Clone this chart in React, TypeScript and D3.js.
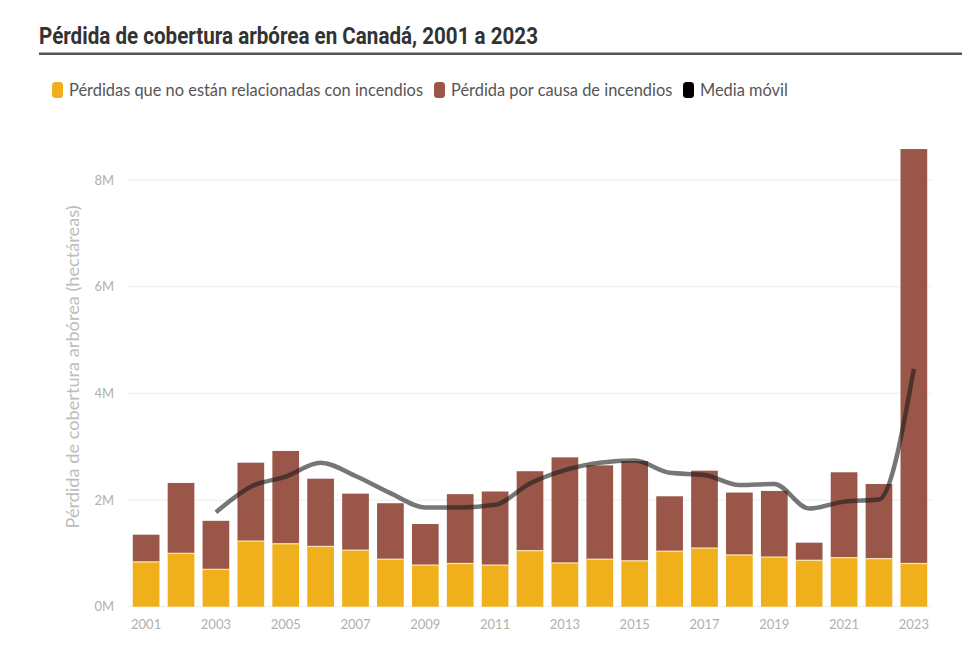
import React from "react";
import * as d3 from "d3";

// Tree cover loss in Canada, hectares (millions)
const years = [
  "2001", "2002", "2003", "2004", "2005", "2006", "2007", "2008", "2009", "2010", "2011", "2012",
  "2013", "2014", "2015", "2016", "2017", "2018", "2019", "2020", "2021", "2022", "2023",
];
// Loss not related to fires
const nonFireLoss = [
  0.84, 1.0, 0.7, 1.23, 1.18, 1.13, 1.06, 0.89, 0.78, 0.81, 0.78, 1.05,
  0.82, 0.89, 0.86, 1.04, 1.1, 0.97, 0.93, 0.87, 0.92, 0.9, 0.81,
];
// Loss caused by fires
const fireLoss = [
  0.51, 1.32, 0.91, 1.47, 1.74, 1.27, 1.06, 1.05, 0.77, 1.3, 1.38, 1.49,
  1.98, 1.76, 1.87, 1.03, 1.45, 1.17, 1.24, 0.33, 1.6, 1.4, 7.77,
];
// Moving average (starts in 2003)
const movingAverage: (number | null)[] = [
  null, null, 1.77, 2.25, 2.44, 2.7, 2.45, 2.13, 1.86, 1.86, 1.91, 2.31,
  2.56, 2.7, 2.74, 2.51, 2.47, 2.28, 2.3, 1.84, 1.97, 2.01, 4.46,
];
const yTicks = [0, 2, 4, 6, 8];
const xTickYears = ["2001", "2003", "2005", "2007", "2009", "2011", "2013", "2015", "2017", "2019", "2021", "2023"];

const titleText = "Pérdida de cobertura arbórea en Canadá, 2001 a 2023";
const legendItems = [
  { label: "Pérdidas que no están relacionadas con incendios", color: "#efb01c", x: 52 },
  { label: "Pérdida por causa de incendios", color: "#9a5749", x: 434 },
  { label: "Media móvil", color: "#000000", x: 683 },
];
const yAxisTitle = "Pérdida de cobertura arbórea (hectáreas)";

const W = 980;
const H = 647;
const plot = { left: 128, right: 932, top: 140, bottom: 606.7 };

export default function App() {
  const x = d3
    .scaleBand<string>()
    .domain(years)
    .range([plot.left, plot.right])
    .paddingInner(0.235)
    .paddingOuter(0.137);

  // 0M at 606.7, 8M at 180
  const y = d3.scaleLinear().domain([0, 8]).range([plot.bottom, 180]);

  const lineGen = d3
    .line<{ year: string; v: number | null }>()
    .defined((d) => d.v !== null)
    .x((d) => (x(d.year) as number) + x.bandwidth() / 2)
    .y((d) => y(d.v as number))
    .curve(d3.curveMonotoneX);

  const linePath = lineGen(years.map((year, i) => ({ year, v: movingAverage[i] }))) || "";

  const sans = "Lato, 'Open Sans', sans-serif";

  return (
    <div style={{ position: "absolute", left: 0, top: 0 }}>
      <svg width={W} height={H} style={{ display: "block", background: "#ffffff" }}>
        {/* Title and rule */}
        <text
          x={39}
          y={44}
          fontFamily="'Liberation Sans Narrow', 'Roboto', sans-serif"
          fontWeight={700}
          fontSize={23}
          fill="#333333"
          textLength={499}
          lengthAdjust="spacingAndGlyphs"
        >
          {titleText}
        </text>
        <rect x={39} y={52.5} width={923} height={2.5} fill="#555555" />

        {/* Legend */}
        {legendItems.map((it) => (
          <g key={it.label}>
            <rect x={it.x} y={82} width={11} height={16} rx={3.5} fill={it.color} />
            <text x={it.x + 17} y={95.5} fontFamily={sans} fontSize={16.4} fill="#555555">
              {it.label}
            </text>
          </g>
        ))}

        {/* Gridlines */}
        {yTicks.map((t) => (
          <line
            key={"g" + t}
            x1={plot.left}
            x2={plot.right}
            y1={y(t)}
            y2={y(t)}
            stroke="#ececec"
            strokeWidth={1}
          />
        ))}

        {/* Y tick labels */}
        {yTicks.map((t) => (
          <text
            key={"yt" + t}
            x={114}
            y={y(t) + 4.5}
            textAnchor="end"
            fontFamily={sans}
            fontSize={13}
            fill="#b0b0b0"
          >
            {t + "M"}
          </text>
        ))}

        {/* Y axis title */}
        <text
          transform={`translate(79, 367) rotate(-90)`}
          textAnchor="middle"
          fontFamily={sans}
          fontSize={18.2}
          fill="#bdbdbd"
        >
          {yAxisTitle}
        </text>

        {/* Stacked bars */}
        {years.map((yr, i) => {
          const bx = x(yr) as number;
          const bw = x.bandwidth();
          const a = nonFireLoss[i];
          const b = fireLoss[i];
          return (
            <g key={yr}>
              <rect x={bx} y={y(a)} width={bw} height={y(0) - y(a)} fill="#efb01c" />
              <rect x={bx} y={y(a + b)} width={bw} height={y(a) - y(a + b)} fill="#9a5749" />
              <line x1={bx} x2={bx + bw} y1={y(a)} y2={y(a)} stroke="#fbe7b5" strokeWidth={1.2} />
            </g>
          );
        })}

        {/* Moving average */}
        <path d={linePath} fill="none" stroke="#1a1a1a" strokeOpacity={0.6} strokeWidth={4.5} />

        {/* X tick labels */}
        {xTickYears.map((yr) => (
          <text
            key={"xt" + yr}
            x={(x(yr) as number) + x.bandwidth() / 2}
            y={629}
            textAnchor="middle"
            fontFamily={sans}
            fontSize={13}
            fill="#b0b0b0"
          >
            {yr}
          </text>
        ))}
      </svg>
    </div>
  );
}
